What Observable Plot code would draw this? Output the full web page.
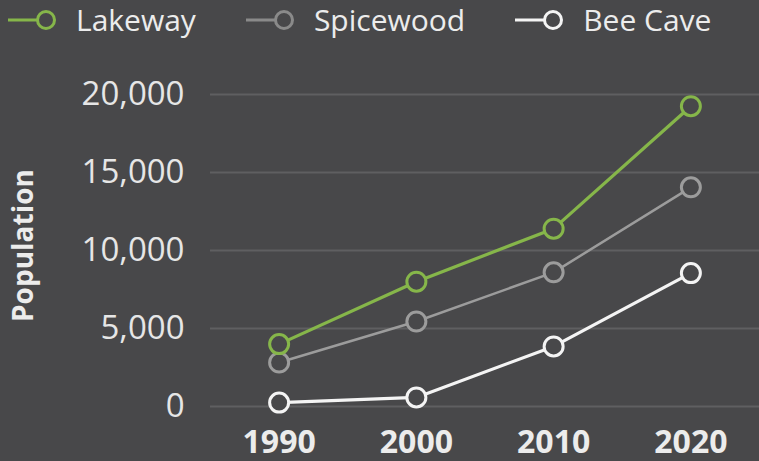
<!DOCTYPE html>
<html>
<head>
<meta charset="utf-8">
<script src="https://cdn.jsdelivr.net/npm/d3@7"></script>
<script src="https://cdn.jsdelivr.net/npm/@observablehq/plot@0.6"></script>
<style>
  html, body { margin: 0; padding: 0; background: #48484a; width: 759px; height: 461px; overflow: hidden; }
  #legend { height: 40px; display: flex; align-items: center; padding-left: 8px; font-family: "Open Sans", sans-serif; font-size: 30px; font-weight: 500; color: #ececec; }
  .item { display: flex; align-items: center; }
  .item svg { display: block; }
  .item span { margin-left: 18px; line-height: 40px; }
  .item + .item { margin-left: 50px; }
</style>
</head>
<body>
<div id="legend"></div>
<div id="chart"></div>
<script>
const years = [1990, 2000, 2010, 2020];
const seriesNames = ["Lakeway", "Spicewood", "Bee Cave"];
const lakeway = [4000, 8000, 11400, 19250];
const spicewood = [2820, 5450, 8600, 14050];
const beeCave = [250, 580, 3850, 8550];
const yTicks = [0, 5000, 10000, 15000, 20000];
const seriesColors = ["#86b64a", "#9c9c9c", "#f4f4f4"];
const legendColors = ["#86b64a", "#8a8a8a", "#f4f4f4"];

const seriesValues = [lakeway, spicewood, beeCave];
const data = [];
// draw Bee Cave first, Lakeway last (on top)
for (let s = seriesNames.length - 1; s >= 0; s--) {
  years.forEach((yr, i) => data.push({series: seriesNames[s], year: yr, value: seriesValues[s][i]}));
}

const bg = "#48484a";

// Legend
const legend = d3.select("#legend");
seriesNames.forEach((name, i) => {
  const item = legend.append("div").attr("class", "item");
  const svg = item.append("svg").attr("width", 50).attr("height", 30);
  svg.append("line").attr("x1", 0).attr("x2", 30).attr("y1", 15).attr("y2", 15)
    .attr("stroke", legendColors[i]).attr("stroke-width", 3);
  svg.append("circle").attr("cx", 38).attr("cy", 15).attr("r", 8.5)
    .attr("fill", bg).attr("stroke", legendColors[i]).attr("stroke-width", 3);
  item.append("span").text(name);
});

const widthFor = d => d.series === "Spicewood" ? 2.5 : 3.2;

const chart = Plot.plot({
  width: 759,
  height: 421,
  marginTop: 54,
  marginBottom: 55,
  marginLeft: 210,
  marginRight: 0,
  style: {background: "transparent", color: "#ececec", fontFamily: "Open Sans, sans-serif", overflow: "visible"},
  x: {domain: [1985, 2025]},
  y: {domain: [0, 20000]},
  color: {domain: seriesNames, range: seriesColors},
  marks: [
    Plot.gridY(yTicks, {stroke: "#5f5f61", strokeOpacity: 1, strokeWidth: 2}),
    Plot.axisY(yTicks, {tickSize: 0, tickPadding: 26, tickFormat: d3.format(","), fontSize: 33, fontWeight: 500, label: null, fill: "#e6e6e6"}),
    Plot.axisX(years, {tickSize: 0, tickPadding: 24, tickFormat: d => String(d), fontSize: 32, fontWeight: "bold", label: null, fill: "#ececec"}),
    Plot.text(["Population"], {frameAnchor: "left", textAnchor: "middle", dx: -186, dy: -5, rotate: -90, fontSize: 28, fontWeight: "bold", fill: "#ececec"}),
    Plot.line(data, {x: "year", y: "value", z: "series", stroke: "series", strokeWidth: widthFor}),
    Plot.dot(data, {x: "year", y: "value", stroke: "series", fill: bg, r: 9.5, strokeWidth: 3})
  ]
});
document.getElementById("chart").appendChild(chart);
</script>
</body>
</html>
